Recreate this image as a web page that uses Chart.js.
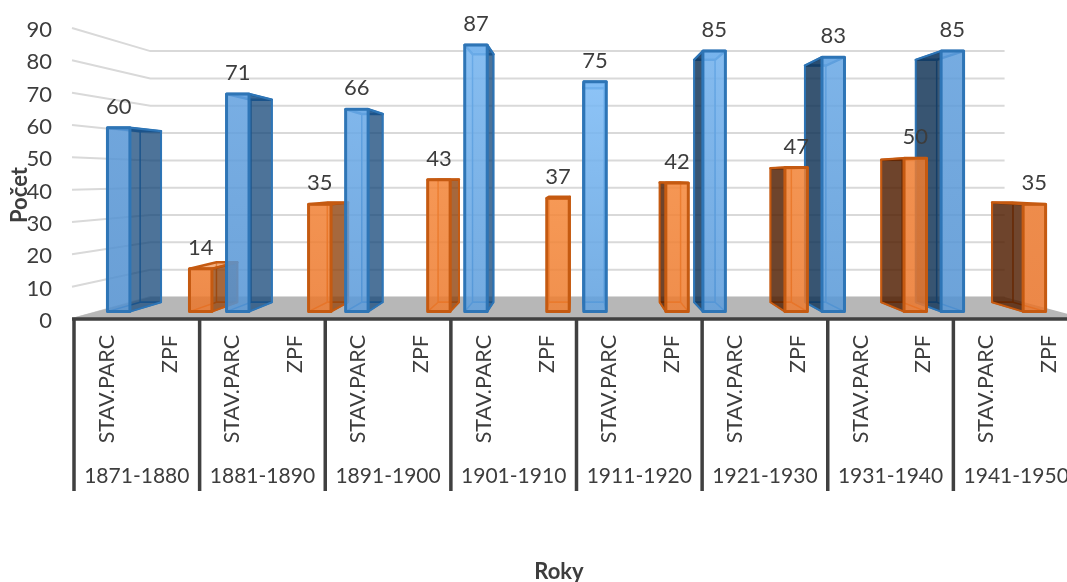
<!DOCTYPE html>
<html>
<head>
<meta charset="utf-8">
<title>Počet</title>
<script src="https://cdn.jsdelivr.net/npm/chart.js@4/dist/chart.umd.min.js"></script>
<style>
  html, body { margin: 0; padding: 0; background: #fff; overflow: hidden; }
  canvas { display: block; }
</style>
</head>
<body>
<canvas id="myChart" width="1100" height="582"></canvas>
<script>
const categorias = ["STAV.PARC","ZPF","STAV.PARC","ZPF","STAV.PARC","ZPF","STAV.PARC","ZPF",
                    "STAV.PARC","ZPF","STAV.PARC","ZPF","STAV.PARC","ZPF","STAV.PARC","ZPF"];
const decadas = ["1871-1880","1881-1890","1891-1900","1901-1910","1911-1920","1921-1930","1931-1940","1941-1950"];
const serieAzul = [60,null,71,null,66,null,87,null,75,null,85,null,83,null,85,null];
const serieNaranja = [null,14,null,35,null,43,null,37,null,42,null,47,null,50,null,35];

const TEXTO = '#3d3d3d';
const FUENTE = 'Lato';
// perspectiva de la caja: punto de fuga y escalas de profundidad
const FUGA_X = 577;
const FUGA_Y = 177;
const PROF_FRENTE = 0.948;
const PROF_ATRAS = 0.882;
const PROF_PARED = 0.845;

function proyectar(x, y, s){
  return [FUGA_X + (x - FUGA_X) * s, FUGA_Y + (y - FUGA_Y) * s];
}

function poligono(ctx, puntos, relleno, borde, ancho){
  ctx.beginPath();
  puntos.forEach((p, i) => i ? ctx.lineTo(p[0], p[1]) : ctx.moveTo(p[0], p[1]));
  ctx.closePath();
  if(relleno){ ctx.fillStyle = relleno; ctx.fill(); }
  if(borde){ ctx.strokeStyle = borde; ctx.lineWidth = ancho; ctx.lineJoin = 'round'; ctx.stroke(); }
}

function mezcla(a, b, t){
  return 'rgb(' + a.map((v, i) => Math.round(v + (b[i] - v) * t)).join(',') + ')';
}

const estilos = [
  { borde:'#2E75B6', lateralDer:'rgba(22,72,123,.75)', lateralIzq:'rgba(15,50,86,.82)',
    arriba:[[124,188,248],[86,149,213]], abajo:[[96,162,225],[80,143,207]], tapa:'rgba(120,175,230,.7)' },
  { borde:'#C55A11', lateralDer:'rgba(146,69,15,.8)', lateralIzq:'rgba(80,29,0,.82)',
    arriba:[[248,138,59],[235,120,44]], abajo:[[240,127,49],[233,115,40]], tapa:'rgba(240,145,80,.7)' }
];

// dibuja una barra como prisma a partir del elemento que calculo Chart.js
function dibujarPrisma(ctx, b){
  const est = estilos[b.serie];
  const iz = b.x - b.width / 2, de = b.x + b.width / 2;
  const fTL = proyectar(iz, b.y, PROF_FRENTE), fTR = proyectar(de, b.y, PROF_FRENTE);
  const fBL = proyectar(iz, b.base, PROF_FRENTE), fBR = proyectar(de, b.base, PROF_FRENTE);
  const aTL = proyectar(iz, b.y, PROF_ATRAS), aTR = proyectar(de, b.y, PROF_ATRAS);
  const aBL = proyectar(iz, b.base, PROF_ATRAS), aBR = proyectar(de, b.base, PROF_ATRAS);

  poligono(ctx, [aTL,aTR,aBR,aBL], 'rgba(60,60,60,.05)', est.borde, 1.5);
  poligono(ctx, [fBL,fBR,aBR,aBL], 'rgba(255,255,255,.15)', est.borde, 1.5);
  poligono(ctx, [fTL,fTR,aTR,aTL], est.tapa, est.borde, 2.5);

  // el lado visible depende de que parte del punto de fuga quede la barra
  if(fTR[0] < aTR[0]){
    poligono(ctx, [fTR,aTR,aBR,fBR], est.lateralDer, est.borde, 2);
  }
  if(fTL[0] > aTL[0]){
    poligono(ctx, [fTL,aTL,aBL,fBL], est.lateralIzq, est.borde, 2);
  }

  const t = Math.min(Math.abs((fTL[0] + fTR[0]) / 2 - FUGA_X) / 470, 1);
  const grad = ctx.createLinearGradient(0, fTL[1], 0, fBL[1]);
  grad.addColorStop(0, mezcla(est.arriba[0], est.arriba[1], t));
  grad.addColorStop(1, mezcla(est.abajo[0], est.abajo[1], t));
  ctx.globalAlpha = 0.85;
  poligono(ctx, [fTL,fTR,fBR,fBL], grad);
  ctx.globalAlpha = 1;
  poligono(ctx, [fTL,fTR,fBR,fBL], null, est.borde, 3);
}

function barrasDelChart(chart){
  let barras = [];
  chart.data.datasets.forEach((ds, serie) => {
    chart.getDatasetMeta(serie).data.forEach((el, i) => {
      if(ds.data[i] != null){
        barras.push({ serie: serie, valor: ds.data[i], x: el.x, y: el.y, base: el.base, width: el.width });
      }
    });
  });
  return barras;
}

const caja3d = {
  id: 'caja3d',
  beforeDatasetsDraw(chart){
    const ctx = chart.ctx, y = chart.scales.y, x = chart.scales.x;
    ctx.save();
    // lineas de la pared lateral y del fondo
    ctx.strokeStyle = '#D9D9D9';
    ctx.lineWidth = 2;
    y.ticks.forEach(t => {
      const py = y.getPixelForValue(t.value);
      const a = proyectar(x.left - 2, py, PROF_PARED);
      const b = proyectar(x.right + 4, py, PROF_PARED);
      ctx.beginPath();
      ctx.moveTo(x.left - 2, py);
      ctx.lineTo(a[0], a[1]);
      ctx.lineTo(b[0], b[1]);
      ctx.stroke();
    });
    // piso gris
    const base = y.getPixelForValue(0);
    poligono(ctx, [[x.left - 2, base - 1], proyectar(x.left - 2, base, PROF_PARED),
                   proyectar(x.right + 4, base, PROF_PARED), [x.right + 4, base - 1]], '#B7B7B7');

    // primero las barras mas alejadas del centro
    const barras = barrasDelChart(chart);
    barras.sort((p, q) => Math.abs(q.x - FUGA_X) - Math.abs(p.x - FUGA_X));
    barras.forEach(b => dibujarPrisma(ctx, b));
    ctx.restore();
  },
  beforeDatasetDraw(){
    return false;
  },
  afterDatasetsDraw(chart){
    const ctx = chart.ctx, x = chart.scales.x, y = chart.scales.y;
    ctx.save();
    ctx.fillStyle = TEXTO;
    ctx.textAlign = 'center';
    ctx.textBaseline = 'middle';
    ctx.font = '22px ' + FUENTE;
    // etiquetas de valor
    barrasDelChart(chart).forEach(b => {
      const f = proyectar(b.x, b.y, PROF_FRENTE);
      ctx.fillText(String(b.valor), f[0], f[1] - 21);
    });

    // eje inferior y separadores de decadas
    const base = y.getPixelForValue(0);
    const ancho = x.width / categorias.length;
    ctx.strokeStyle = '#404040';
    ctx.lineWidth = 3.5;
    ctx.beginPath();
    ctx.moveTo(x.left - 2, base);
    ctx.lineTo(x.right, base);
    decadas.forEach((d, i) => {
      const px = x.getPixelForValue(i * 2) - ancho / 2;
      ctx.moveTo(px, base);
      ctx.lineTo(px, 491);
    });
    ctx.stroke();
    ctx.font = '21px ' + FUENTE;
    decadas.forEach((d, i) => {
      ctx.fillText(d, x.getPixelForValue(i * 2) + ancho / 2, 476);
    });

    // titulos de los ejes
    ctx.font = 'bold 22px ' + FUENTE;
    ctx.fillText('Roky', 559, 572);
    ctx.translate(20, 195);
    ctx.rotate(-Math.PI / 2);
    ctx.fillText('Počet', 0, 0);
    ctx.restore();
  }
};

const ctx = document.querySelector('#myChart').getContext('2d');
const myChart = new Chart(ctx, {
  type: 'bar',
  data: {
    labels: categorias,
    datasets: [
      { label: 'STAV.PARC', data: serieAzul, categoryPercentage: 0.755, barPercentage: 1 },
      { label: 'ZPF', data: serieNaranja, categoryPercentage: 0.755, barPercentage: 1 }
    ]
  },
  options: {
    responsive: false,
    animation: false,
    layout: { padding: { top: 28, right: 21, left: 0, bottom: 0 } },
    plugins: { legend: { display: false }, tooltip: { enabled: false } },
    scales: {
      x: {
        grid: { display: false, drawTicks: false },
        border: { display: false },
        afterFit(scale){ scale.height = 263; scale.paddingLeft = 0; scale.paddingRight = 0; },
        ticks: {
          color: TEXTO,
          font: { family: FUENTE, size: 21.5 },
          autoSkip: false,
          minRotation: 90,
          maxRotation: 90,
          padding: 16,
          labelOffset: 1.5
        }
      },
      y: {
        min: 0,
        max: 90,
        grid: { display: false, drawTicks: false },
        border: { display: false },
        afterFit(scale){ scale.width = 74; scale.paddingTop = 0; scale.paddingBottom = 0; },
        ticks: {
          color: TEXTO,
          font: { family: FUENTE, size: 22 },
          stepSize: 10,
          padding: 22,
          labelOffset: 2
        }
      }
    }
  },
  plugins: [caja3d]
});
</script>
</body>
</html>
